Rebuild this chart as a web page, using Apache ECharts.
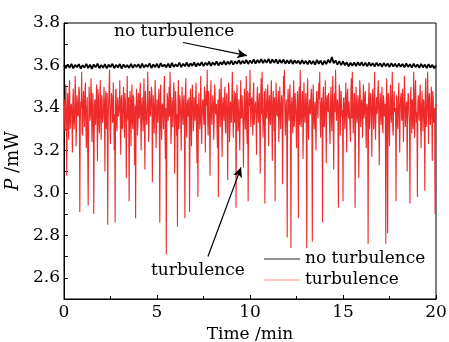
<!DOCTYPE html>
<html>
<head>
<meta charset="utf-8">
<script src="https://cdn.jsdelivr.net/npm/echarts@6/dist/echarts.min.js"></script>
<style>html,body{margin:0;padding:0;background:#fff}#c{width:449px;height:342px}</style>
</head>
<body>
<div id="c"></div>
<script>
// time step (min) between samples
const redStep = 0.05;     // turbulence: main samples every 0.05 min, mid samples offset by half a step
const blackStep = 0.1;
const xTicks = [0, 5, 10, 15, 20];
const yTicks = [2.6, 2.8, 3.0, 3.2, 3.4, 3.6, 3.8];
const seriesNames = ['no turbulence', 'turbulence'];

// P (mW) without turbulence, sampled every 0.1 min
const noTurbulence = [
3.602,3.587,3.605,3.589,3.608,3.586,3.603,3.592,3.606,3.585,3.601,3.590,3.607,3.588,3.604,3.584,3.605,3.591,3.609,3.587,
3.602,3.589,3.606,3.586,3.604,3.592,3.608,3.587,3.603,3.590,3.607,3.585,3.605,3.591,3.602,3.588,3.608,3.589,3.604,3.593,
3.606,3.587,3.609,3.590,3.603,3.593,3.610,3.588,3.605,3.592,3.608,3.589,3.611,3.594,3.604,3.591,3.609,3.590,3.612,3.593,
3.606,3.595,3.613,3.592,3.608,3.596,3.614,3.594,3.610,3.598,3.615,3.595,3.611,3.599,3.616,3.597,3.613,3.601,3.618,3.598,
3.614,3.602,3.619,3.600,3.616,3.604,3.621,3.603,3.618,3.606,3.623,3.604,3.620,3.608,3.625,3.606,3.622,3.609,3.626,3.607,
3.624,3.610,3.629,3.609,3.626,3.612,3.630,3.611,3.627,3.613,3.631,3.610,3.628,3.612,3.629,3.609,3.627,3.611,3.628,3.608,
3.625,3.609,3.626,3.607,3.624,3.610,3.623,3.606,3.625,3.608,3.622,3.605,3.624,3.607,3.621,3.604,3.626,3.608,3.623,3.603,
3.622,3.606,3.627,3.612,3.640,3.610,3.624,3.604,3.620,3.602,3.619,3.601,3.615,3.596,3.613,3.598,3.614,3.597,3.616,3.599,
3.615,3.598,3.613,3.596,3.614,3.599,3.611,3.595,3.613,3.597,3.610,3.594,3.612,3.596,3.609,3.593,3.611,3.595,3.608,3.592,
3.609,3.594,3.607,3.591,3.610,3.593,3.606,3.590,3.608,3.592,3.605,3.589,3.607,3.591,3.604,3.588,3.606,3.590,3.603,3.587,
3.600];

// P (mW) with turbulence, main samples every 0.05 min
const turbulence = [
3.44,3.29,3.51,3.08,3.47,3.25,3.53,3.33,3.42,3.19,3.49,3.30,3.55,3.22,3.46,3.36,3.50,2.91,3.43,3.57,
3.27,3.48,3.31,3.52,3.21,3.45,2.94,3.50,3.34,3.54,3.24,3.47,2.90,3.43,3.32,3.51,3.15,3.46,3.28,3.53,
3.25,3.44,3.35,3.50,3.10,3.48,3.30,2.85,3.42,3.58,3.23,3.47,3.33,3.52,3.20,2.86,3.49,3.29,3.45,3.36,
3.53,3.18,3.46,3.31,3.50,3.26,3.43,3.07,3.55,3.34,2.96,3.48,3.22,3.51,3.30,3.44,3.13,2.88,3.49,3.27,
3.47,3.35,3.52,3.20,3.45,3.29,3.54,3.11,3.41,3.32,3.57,3.24,3.48,3.36,3.50,3.05,3.46,3.28,3.53,3.21,
3.44,3.33,3.49,2.86,3.51,3.25,3.42,3.30,3.55,3.16,2.71,3.47,3.34,3.50,3.57,3.23,3.45,3.31,3.52,3.09,
3.48,3.27,2.84,3.53,3.35,3.43,3.20,3.50,3.32,3.46,2.88,3.54,3.26,3.44,3.38,2.91,3.49,3.22,3.51,3.29,
3.45,3.34,3.52,3.14,2.98,3.47,3.30,3.55,3.23,3.43,3.36,3.50,3.19,3.48,3.58,3.27,3.44,3.08,3.53,3.32,
3.46,3.25,3.51,3.37,3.42,3.21,2.98,3.49,3.31,3.54,3.17,3.45,3.34,3.50,3.28,3.47,3.06,3.52,3.24,3.43,
3.33,3.57,3.26,3.48,3.35,2.93,3.51,3.29,3.44,3.20,3.53,3.36,3.46,3.12,3.49,3.30,3.55,3.23,2.96,3.47,
3.58,3.31,3.45,3.27,3.52,3.38,3.43,3.18,3.50,3.33,3.47,3.09,3.54,3.57,3.26,3.44,2.95,3.49,3.35,3.51,
3.22,3.46,3.32,3.53,3.15,3.48,3.29,2.96,3.52,3.37,3.43,3.24,3.50,3.30,3.46,3.04,3.55,3.58,3.27,3.44,
2.79,3.49,3.34,3.51,2.74,3.45,3.28,3.53,3.36,3.42,3.21,3.48,2.88,3.50,3.58,3.31,3.46,3.16,3.52,3.33,
3.47,2.74,3.54,3.25,3.44,3.37,3.49,2.77,3.51,3.30,3.43,3.20,3.48,3.35,3.52,3.57,3.26,3.45,2.86,3.50,
3.32,3.53,3.14,3.46,3.38,3.42,3.23,3.50,3.29,3.55,3.11,3.47,3.58,3.34,3.44,2.93,3.51,3.27,3.48,3.36,
2.96,3.45,3.30,3.52,3.19,3.49,3.35,3.43,3.24,3.54,3.57,3.28,3.47,2.93,3.50,3.33,3.46,3.07,3.53,3.31,
3.44,3.26,3.51,3.37,3.48,3.21,3.42,2.76,3.52,3.34,3.46,3.17,3.49,3.30,3.57,3.25,3.45,3.39,3.53,3.13,
3.47,3.32,3.50,3.28,3.43,3.36,2.76,3.54,2.81,3.46,3.22,3.51,3.33,3.57,3.27,3.48,3.38,2.96,3.44,3.30,
3.52,3.19,3.45,3.35,3.49,3.24,3.55,3.31,3.42,3.10,3.47,3.37,2.95,3.50,3.28,3.44,3.57,3.26,3.53,3.33,
2.98,3.46,3.34,3.51,3.21,3.48,3.29,3.43,3.01,3.54,3.36,3.57,3.23,3.47,3.32,3.50,3.15,3.45,3.38,2.90,
3.42];

// P (mW) with turbulence, mid samples (between consecutive main samples)
const turbulenceMid = [
3.38,3.45,3.31,3.40,3.35,3.47,3.30,3.41,3.36,3.44,3.33,3.39,3.46,3.32,3.42,3.37,3.48,3.34,3.40,3.29,
3.43,3.36,3.47,3.33,3.39,3.45,3.31,3.42,3.37,3.46,3.34,3.40,3.28,3.44,3.38,3.35,3.49,3.32,3.41,3.36,
3.46,3.33,3.40,3.38,3.44,3.31,3.47,3.35,3.42,3.30,3.39,3.45,3.34,3.41,3.37,3.48,3.32,3.43,3.36,3.40,
3.35,3.44,3.30,3.42,3.38,3.47,3.33,3.40,3.36,3.45,3.31,3.43,3.39,3.34,3.46,3.29,3.41,3.37,3.44,3.32,
3.40,3.46,3.34,3.41,3.37,3.43,3.30,3.48,3.35,3.39,3.44,3.32,3.42,3.36,3.47,3.33,3.40,3.38,3.45,3.31,
3.39,3.43,3.35,3.46,3.32,3.41,3.37,3.48,3.34,3.40,3.30,3.44,3.38,3.36,3.45,3.31,3.42,3.39,3.47,3.33,
3.41,3.37,3.44,3.30,3.46,3.35,3.40,3.38,3.43,3.32,3.47,3.34,3.41,3.36,3.45,3.29,3.42,3.39,3.44,3.33,
3.37,3.45,3.31,3.42,3.39,3.47,3.34,3.40,3.36,3.44,3.32,3.46,3.38,3.41,3.35,3.48,3.30,3.43,3.37,3.40,
3.42,3.34,3.46,3.38,3.31,3.44,3.36,3.40,3.47,3.33,3.41,3.37,3.45,3.30,3.43,3.39,3.35,3.48,3.32,3.40,
3.45,3.38,3.41,3.33,3.47,3.36,3.42,3.31,3.44,3.39,3.35,3.46,3.32,3.40,3.38,3.43,3.30,3.48,3.37,3.41,
3.36,3.44,3.39,3.47,3.32,3.41,3.35,3.45,3.38,3.43,3.30,3.46,3.37,3.40,3.34,3.48,3.31,3.42,3.39,3.44,
3.40,3.35,3.47,3.33,3.42,3.38,3.45,3.31,3.43,3.36,3.48,3.34,3.41,3.39,3.44,3.30,3.46,3.37,3.40,3.32,
3.43,3.39,3.46,3.34,3.41,3.37,3.44,3.31,3.47,3.35,3.40,3.38,3.45,3.32,3.42,3.36,3.48,3.33,3.41,3.39,
3.37,3.45,3.32,3.40,3.38,3.46,3.34,3.43,3.36,3.41,3.30,3.47,3.39,3.35,3.44,3.33,3.42,3.38,3.46,3.31,
3.41,3.36,3.44,3.39,3.47,3.33,3.40,3.37,3.45,3.31,3.43,3.38,3.46,3.34,3.41,3.36,3.48,3.32,3.42,3.39,
3.44,3.37,3.41,3.34,3.46,3.38,3.43,3.31,3.47,3.35,3.40,3.39,3.45,3.32,3.42,3.36,3.44,3.30,3.48,3.37,
3.40,3.43,3.35,3.46,3.32,3.41,3.38,3.44,3.30,3.47,3.36,3.42,3.39,3.45,3.33,3.40,3.37,3.48,3.34,3.41,
3.38,3.44,3.31,3.46,3.36,3.42,3.39,3.35,3.47,3.33,3.41,3.37,3.45,3.30,3.43,3.38,3.40,3.46,3.32,3.44,
3.36,3.41,3.47,3.34,3.40,3.38,3.45,3.31,3.43,3.37,3.46,3.33,3.42,3.39,3.44,3.30,3.48,3.35,3.41,3.38,
3.43,3.39,3.46,3.32,3.40,3.37,3.44,3.34,3.47,3.31,3.42,3.38,3.45,3.35,3.41,3.36,3.48,3.33,3.40,3.37];

const FONT = 'DejaVu Serif';
const blackData = noTurbulence.map((v, i) => [+(i * blackStep).toFixed(3), v]);
const redData = [];
turbulence.forEach((v, i) => {
  redData.push([+(i * redStep).toFixed(4), v]);
  if (i < turbulenceMid.length) redData.push([+((i + 0.5) * redStep).toFixed(4), turbulenceMid[i]]);
});

const chart = echarts.init(document.getElementById('c'), null, {renderer: 'canvas'});
chart.setOption({
  animation: false,
  backgroundColor: '#fff',
  grid: {left: 64, right: 13, top: 23, bottom: 43, show: true, borderColor: '#000', borderWidth: 1,
    backgroundColor: 'transparent', containLabel: false, outerBoundsMode: 'none'},
  xAxis: {
    type: 'value', min: xTicks[0], max: xTicks[xTicks.length - 1], interval: 5,
    name: 'Time /min', nameLocation: 'middle', nameGap: 27,
    nameTextStyle: {fontFamily: FONT, fontSize: 17, color: '#000'},
    axisLine: {show: true, lineStyle: {color: '#000', width: 1}},
    axisTick: {show: true, inside: true, length: 4, lineStyle: {color: '#000'}},
    minorTick: {show: true, splitNumber: 2, length: 3, lineStyle: {color: '#000'}},
    axisLabel: {fontFamily: FONT, fontSize: 17, color: '#000', margin: 5},
    splitLine: {show: false}
  },
  yAxis: {
    type: 'value', min: 2.5, max: yTicks[yTicks.length - 1], interval: 0.1,
    name: '{i|P} /mW', nameLocation: 'middle', nameGap: 40, nameRotate: 90,
    nameTextStyle: {fontFamily: FONT, fontSize: 18, color: '#000',
      rich: {i: {fontFamily: FONT, fontSize: 18, fontStyle: 'italic', color: '#000'}}},
    axisLine: {show: true, lineStyle: {color: '#000', width: 1}},
    axisTick: {show: true, inside: true, length: 4, lineStyle: {color: '#000'}},
    axisLabel: {fontFamily: FONT, fontSize: 17, color: '#000', margin: 4,
      formatter: function (v) {
        const k = Math.round(v * 10);
        return yTicks.some(t => Math.round(t * 10) === k) ? (k / 10).toFixed(1) : '';
      }},
    splitLine: {show: false}
  },
  legend: {
    left: 264, top: 250, orient: 'vertical', itemGap: 3, itemWidth: 36, itemHeight: 1.2,
    padding: 0, icon: 'rect',
    textStyle: {fontFamily: FONT, fontSize: 17, lineHeight: 18, color: '#000'},
    data: [
      {name: seriesNames[0], itemStyle: {color: '#222'}},
      {name: seriesNames[1], itemStyle: {color: '#f5957f'}}
    ]
  },
  series: [
    {
      name: seriesNames[1], type: 'line', data: redData, symbol: 'none', z: 2,
      lineStyle: {color: '#ee2a2a', width: 1.1}, itemStyle: {color: '#f5957f'},
      emphasis: {disabled: true}
    },
    {
      name: seriesNames[0], type: 'line', data: blackData, symbol: 'none', z: 3,
      lineStyle: {color: '#000', width: 1.8}, itemStyle: {color: '#222'},
      emphasis: {disabled: true},
      markLine: {
        silent: true, symbol: ['none', 'arrow'], symbolSize: [7, 10],
        label: {show: false},
        lineStyle: {color: '#000', width: 1.2, type: 'solid'},
        data: [
          [{coord: [6.4, 3.708]}, {coord: [9.84, 3.646]}],
          [{coord: [7.74, 2.70]}, {coord: [9.52, 3.12]}]
        ]
      }
    }
  ],
  graphic: [
    {type: 'text', left: 114, top: 23, style: {text: 'no turbulence', font: '17px "DejaVu Serif"', fill: '#000'}},
    {type: 'text', left: 151, top: 262, style: {text: 'turbulence', font: '17px "DejaVu Serif"', fill: '#000'}}
  ]
});
</script>
</body>
</html>
